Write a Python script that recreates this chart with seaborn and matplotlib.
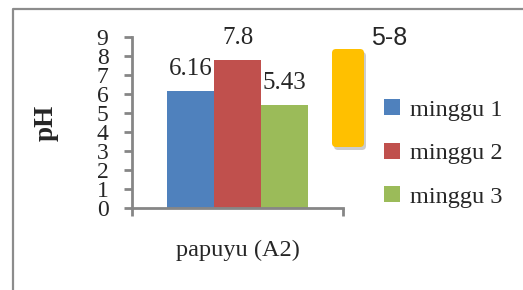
import matplotlib
matplotlib.use("Agg")
import matplotlib.pyplot as plt
import seaborn as sns
import pandas as pd
from matplotlib.patches import FancyBboxPatch, Patch
from matplotlib.lines import Line2D
from matplotlib.transforms import IdentityTransform

categories = ["papuyu (A2)"]
series = ["minggu 1", "minggu 2", "minggu 3"]
values = [6.16, 7.8, 5.43]
value_labels = ["6.16", "7.8", "5.43"]
colors = ["#4F81BD", "#C0504D", "#9BBB59"]
y_ticks = [0, 1, 2, 3, 4, 5, 6, 7, 8, 9]
range_label = "5-8"

df = pd.DataFrame({"cat": categories * len(series), "series": series, "pH": values})

sns.set_theme(style="white")
plt.rcParams["font.family"] = ["Liberation Serif", "DejaVu Serif"]

W, H = 523, 290
fig = plt.figure(figsize=(W / 100, H / 100), dpi=100)
ax = fig.add_axes([132 / W, 1 - 208 / H, (343 - 132) / W, (208 - 37) / H])

sns.barplot(data=df, x="cat", y="pH", hue="series", palette=colors,
            width=0.67, ax=ax, legend=False, saturation=1, edgecolor="none")

ax.set_xlim(-0.5, 0.5)
ax.set_ylim(0, 9)
ax.set_yticks(y_ticks)
ax.set_yticklabels([str(t) for t in y_ticks], fontsize=17)

ax.set_xticks([-0.5, 0.5])
ax.set_xticklabels(["", ""])
ax.set_xticks([0], labels=categories, minor=True)
ax.tick_params(axis="x", which="major", length=6, width=2, color="#868686", direction="out", bottom=True)
ax.tick_params(axis="x", which="minor", length=0, pad=23, labelsize=17.5)
ax.tick_params(axis="y", length=6, width=2, color="#868686", direction="out", left=True, pad=11)
ax.set_xlabel("")
ax.set_ylabel("pH", fontsize=19.5, fontweight="bold", labelpad=27)

for s in ["top", "right"]:
    ax.spines[s].set_visible(False)
for s in ["left", "bottom"]:
    ax.spines[s].set_color("#868686")
    ax.spines[s].set_linewidth(2)

for cont, lab in zip(ax.containers, value_labels):
    ax.bar_label(cont, labels=[lab], padding=8, fontsize=18)

# legend
handles = [Patch(facecolor=c, edgecolor="none") for c in colors]
fig.legend(handles, series, loc="upper left", bbox_to_anchor=(384 / W, 1 - 99 / H),
           frameon=False, fontsize=17.5, handlelength=0.65, handleheight=0.65,
           handletextpad=0.4, labelspacing=0.9, borderaxespad=0, borderpad=0)

# yellow range box with shadow
x0, x1, ytop, ybot = 332, 364, 49, 147
shadow = FancyBboxPatch((x0 + 2, H - ybot - 3), x1 - x0, ybot - ytop,
                        boxstyle="round,pad=0,rounding_size=4", facecolor="#000000",
                        alpha=0.2, edgecolor="none", transform=IdentityTransform())
fig.add_artist(shadow)
box = FancyBboxPatch((x0, H - ybot), x1 - x0, ybot - ytop,
                     boxstyle="round,pad=0,rounding_size=4", facecolor="#FFC000",
                     edgecolor="none", transform=IdentityTransform())
fig.add_artist(box)
fig.text(389 / W, 1 - 38 / H, range_label, ha="center", va="center", fontsize=18,
         family=["Liberation Sans", "DejaVu Sans"])

# outer frame
fig.add_artist(Line2D([12.5 / W, 12.5 / W, 1.0], [0, 1 - 8.5 / H, 1 - 8.5 / H],
                      transform=fig.transFigure, color="#8C8C8C", linewidth=1.6))

fig.savefig("out.png", dpi=100)
